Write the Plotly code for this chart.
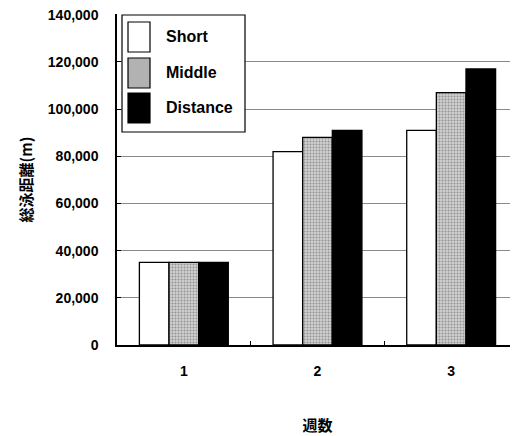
import plotly.graph_objects as go

weeks = ["1", "2", "3"]
series_names = ["Short", "Middle", "Distance"]
short_vals = [35000, 82000, 91000]
middle_vals = [35000, 88000, 107000]
distance_vals = [35000, 91000, 117000]
y_ticks = [0, 20000, 40000, 60000, 80000, 100000, 120000, 140000]

OFF = 8  # page body margin
W, H = 518 - OFF, 436 - OFF
L, R, T, B = 117 - OFF, 0, 14 - OFF, 91
pw, ph = W - L - R, H - T - B

fig = go.Figure()
fig.add_trace(go.Bar(x=weeks, y=short_vals, name="Short",
                     marker=dict(color="white", line=dict(color="black", width=1.3))))
fig.add_trace(go.Bar(x=weeks, y=middle_vals, name="Middle",
                     marker=dict(color="#c4c4c4", line=dict(color="black", width=1.3),
                                 pattern=dict(shape=".", fgcolor="#555555", bgcolor="#cfcfcf",
                                              size=3, solidity=0.35, fillmode="overlay"))))
fig.add_trace(go.Bar(x=weeks, y=distance_vals, name="Distance",
                     marker=dict(color="black", line=dict(color="black", width=1.3))))

fnt = "Liberation Sans, Arial, Noto Sans CJK JP, sans-serif"

def px_x(x):
    return (x - OFF - L) / pw

def px_y(y):
    return (H - B - (y - OFF)) / ph

shapes = []
annotations = []
# legend box
shapes.append(dict(type="rect", xref="paper", yref="paper",
                   x0=px_x(122), x1=px_x(245), y0=px_y(132), y1=px_y(15),
                   line=dict(color="black", width=1.2), fillcolor="white", layer="above"))
sw = [(22, 52, "white"), (58, 88, "#b2b2b2"), (93, 123, "black")]
for (y0, y1, c), name in zip(sw, series_names):
    shapes.append(dict(type="rect", xref="paper", yref="paper",
                       x0=px_x(128), x1=px_x(150), y0=px_y(y1), y1=px_y(y0),
                       line=dict(color="black", width=1.2), fillcolor=c, layer="above"))
    annotations.append(dict(text=name, xref="paper", yref="paper",
                            x=px_x(164), y=px_y((y0 + y1) / 2), xanchor="left", yanchor="middle",
                            showarrow=False, font=dict(family=fnt, size=16, color="black", weight="bold")))

fig.update_layout(
    width=W, height=H,
    margin=dict(l=L, r=R, t=T, b=B, autoexpand=False),
    paper_bgcolor="white", plot_bgcolor="white",
    barmode="group", bargap=0.335, bargroupgap=0,
    showlegend=False,
    shapes=shapes, annotations=annotations,
    font=dict(family=fnt, size=13, color="black"),
)
fig.update_xaxes(
    type="category", showline=True, linecolor="black", linewidth=1.5,
    ticks="inside", tickson="boundaries", ticklen=4, tickcolor="black",
    tickfont=dict(family=fnt, size=14, color="black", weight="bold"),
    ticklabelstandoff=12,
    title=dict(text="週数", font=dict(family="Noto Sans CJK JP", size=15, color="black", weight="bold"),
               standoff=43),
    range=[-0.5, 2.5], automargin=False,
)
fig.update_yaxes(
    range=[0, 140300], tickvals=y_ticks, tickformat=",",
    showline=True, linecolor="black", linewidth=1.5,
    ticks="inside", ticklen=4, tickcolor="black",
    showgrid=True, gridcolor="#8a8a8a", gridwidth=1,
    tickfont=dict(family=fnt, size=14, color="black", weight="bold"),
    ticklabelstandoff=14, ticklabeloverflow="allow",
    title=dict(text="総泳距離(m)", font=dict(family="Noto Sans CJK JP", size=15, color="black", weight="bold"),
               standoff=12),
    zeroline=False, automargin=False,
)

fig.write_html("out.html")
